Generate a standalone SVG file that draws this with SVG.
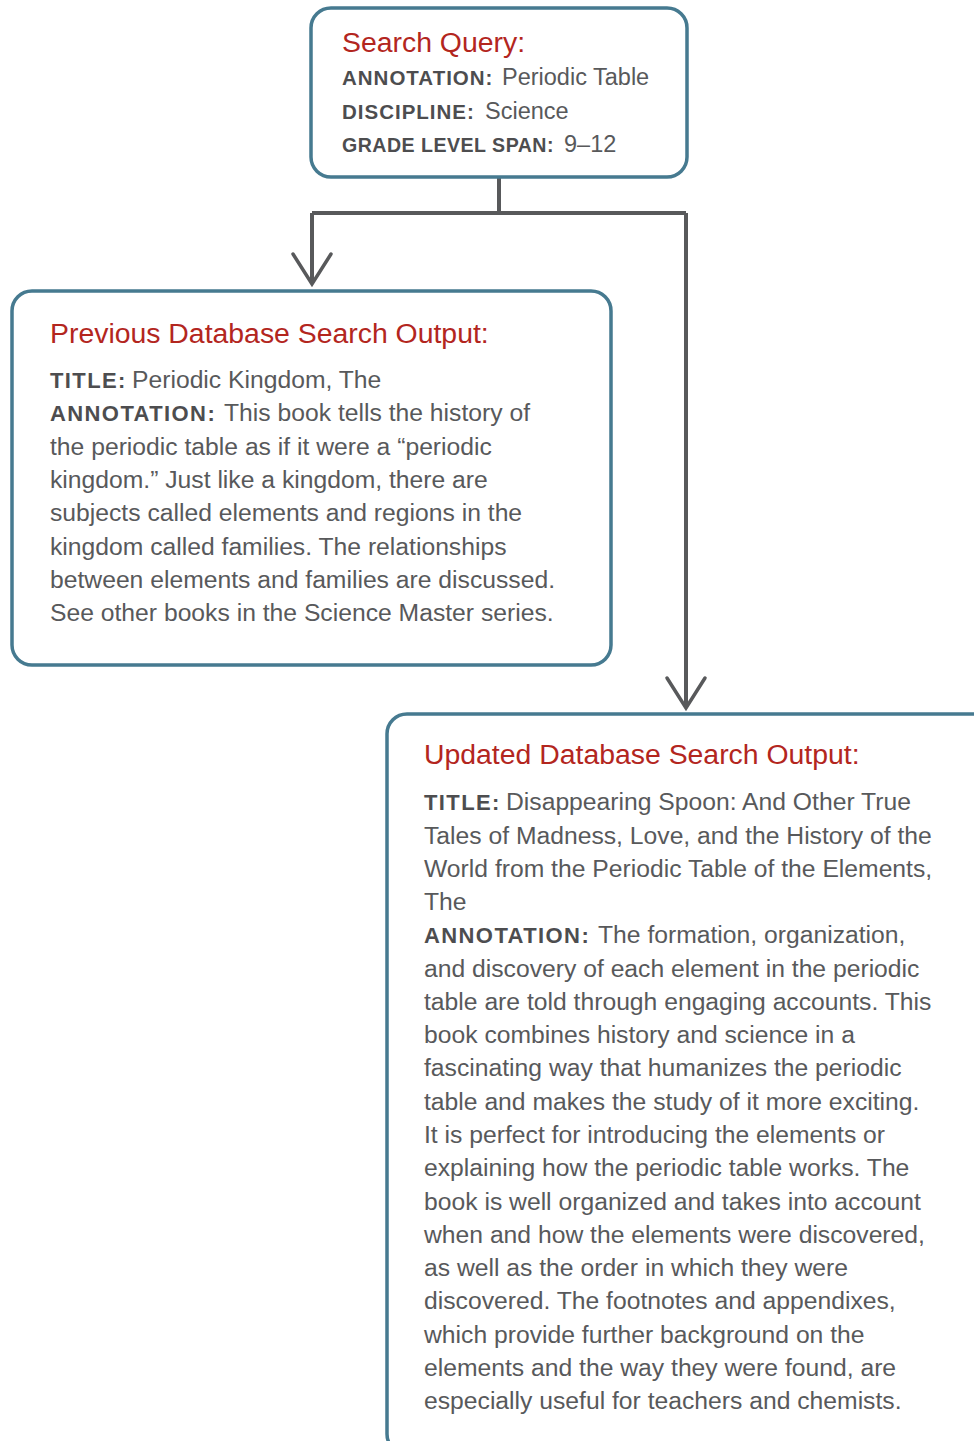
<svg xmlns="http://www.w3.org/2000/svg" width="974" height="1441" viewBox="0 0 974 1441">
<style>
.box{fill:#fff;stroke:#467A90;stroke-width:3.5}
.conn{fill:none;stroke:#58595B;stroke-width:4;stroke-linejoin:miter}
.head{fill:none;stroke:#58595B;stroke-width:3.5;stroke-linecap:round;stroke-linejoin:miter}
.title{font-family:"Liberation Sans",Arial,sans-serif;font-size:28.4px;fill:#B3261E}
.body{font-family:"Liberation Sans",Arial,sans-serif;font-size:24.7px;fill:#58595B}
.b1{font-family:"Liberation Sans",Arial,sans-serif;font-size:23.5px;fill:#58595B}
.lbl{font-weight:bold;font-size:22px;letter-spacing:1.4px;fill:#4D4D4F}
.lbl1{font-family:"Liberation Sans",Arial,sans-serif;font-weight:bold;font-size:20.5px;letter-spacing:1px;fill:#4D4D4F}
</style>
<rect width="974" height="1441" fill="#fff"/>
<g id="connectors">
<path class="conn" d="M499,177 V213 M312,213 H686 M312,213 V284 M686,213 V707"/>
<path class="head" d="M293,254 L312,284 L331,254"/>
<path class="head" d="M667,678 L686,708 L705,678"/>
</g>
<g id="search-query">
<rect class="box" x="311" y="8" width="376" height="169" rx="20"/>
<text class="title" x="342" y="52">Search Query:</text>
<text class="b1" x="342" y="85"><tspan class="lbl1">ANNOTATION:</tspan><tspan x="502">Periodic Table</tspan></text>
<text class="b1" x="342" y="119"><tspan class="lbl1">DISCIPLINE:</tspan><tspan x="485">Science</tspan></text>
<text class="lbl1" x="342" y="152" style="letter-spacing:0.5px" textLength="212" lengthAdjust="spacingAndGlyphs">GRADE LEVEL SPAN:</text>
<text class="b1" x="564" y="152">9–12</text>
</g>
<g id="previous-output">
<rect class="box" x="12" y="291" width="599" height="374" rx="20"/>
<text class="title" x="50" y="343">Previous Database Search Output:</text>
<g class="body">
<text x="50" y="388"><tspan class="lbl">TITLE:</tspan><tspan x="132">Periodic Kingdom, The</tspan></text>
<text x="50" y="421"><tspan class="lbl">ANNOTATION:</tspan><tspan x="224">This book tells the history of</tspan></text>
<text x="50" y="455">the periodic table as if it were a “periodic</text>
<text x="50" y="488">kingdom.” Just like a kingdom, there are</text>
<text x="50" y="521">subjects called elements and regions in the</text>
<text x="50" y="555">kingdom called families. The relationships</text>
<text x="50" y="588">between elements and families are discussed.</text>
<text x="50" y="621">See other books in the Science Master series.</text>
</g>
</g>
<g id="updated-output">
<rect class="box" x="387" y="714" width="620" height="740" rx="20"/>
<text class="title" x="424" y="764">Updated Database Search Output:</text>
<g class="body">
<text x="424" y="810"><tspan class="lbl">TITLE:</tspan><tspan x="506">Disappearing Spoon: And Other True</tspan></text>
<text x="424" y="844">Tales of Madness, Love, and the History of the</text>
<text x="424" y="877">World from the Periodic Table of the Elements,</text>
<text x="424" y="910">The</text>
<text x="424" y="943"><tspan class="lbl">ANNOTATION:</tspan><tspan x="598">The formation, organization,</tspan></text>
<text x="424" y="977">and discovery of each element in the periodic</text>
<text x="424" y="1010">table are told through engaging accounts. This</text>
<text x="424" y="1043">book combines history and science in a</text>
<text x="424" y="1076">fascinating way that humanizes the periodic</text>
<text x="424" y="1110">table and makes the study of it more exciting.</text>
<text x="424" y="1143">It is perfect for introducing the elements or</text>
<text x="424" y="1176">explaining how the periodic table works. The</text>
<text x="424" y="1210">book is well organized and takes into account</text>
<text x="424" y="1243">when and how the elements were discovered,</text>
<text x="424" y="1276">as well as the order in which they were</text>
<text x="424" y="1309">discovered. The footnotes and appendixes,</text>
<text x="424" y="1343">which provide further background on the</text>
<text x="424" y="1376">elements and the way they were found, are</text>
<text x="424" y="1409">especially useful for teachers and chemists.</text>
</g>
</g>
</svg>
